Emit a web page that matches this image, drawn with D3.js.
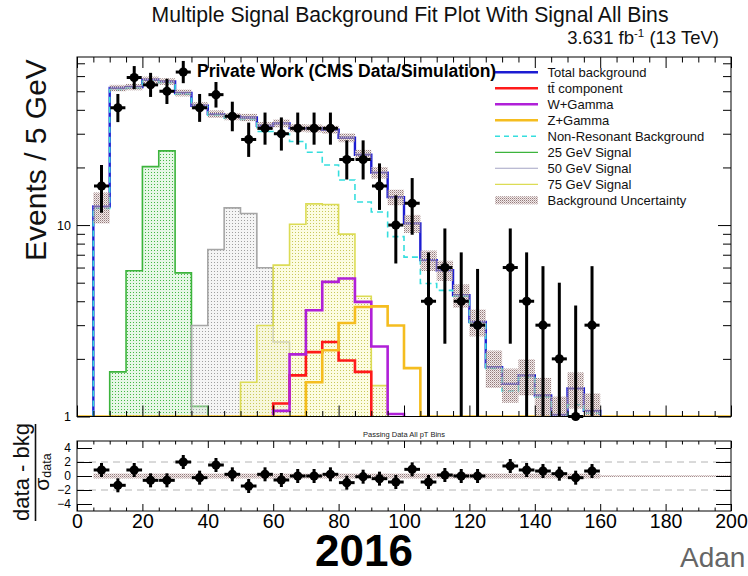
<!DOCTYPE html>
<html>
<head>
<meta charset="utf-8">
<script src="https://cdn.jsdelivr.net/npm/d3@7"></script>
<style>
  body { margin: 0; background: #fff; }
  svg { display: block; }
  text { font-family: "Liberation Sans", Arial, Helvetica, sans-serif; }
</style>
</head>
<body>
<svg id="chart" width="748" height="576"></svg>
<script>
// ---- binning: 5 GeV bins from 0 to 200 GeV (lower edges) ----
const binLow = [0,5,10,15,20,25,30,35,40,45,50,55,60,65,70,75,80,85,90,95,
                100,105,110,115,120,125,130,135,140,145,150,155,160,165,170,175,180,185,190,195];
const binWidth = 5;

// ---- stacked background fit (events per bin) ----
const totalBkg = [0,12.5,52,52.6,57.4,56.2,49,42,38,36.9,36.5,33,34,32.1,32,31.5,28.6,23.3,18.8,14,
                  10.2,6.56,5.81,4.3,3.12,1.81,1.48,1.64,1.29,1.02,1.4,1.07,0,0,0,0,0,0,0,0];
const bkgUnc   = [0,2.3,2.0,2.0,2.2,2.2,2.0,1.8,1.7,1.6,1.6,1.5,1.6,1.5,1.5,1.5,1.5,1.4,1.3,1.3,
                  1.1,0.8,0.7,0.6,0.5,0.4,0.3,0.35,0.3,0.25,0.3,0.25,0,0,0,0,0,0,0,0];
const nonRes   = [0,12.2,51,52,56.5,55.4,48.3,41.4,37.5,36.2,35.6,30.8,29.9,27.3,24.0,20.6,17.2,13.2,11.7,8.7,
                  6.8,4.95,4.56,4.25,3.08,1.78,1.36,1.6,1.26,1.0,1.15,1.04,0,0,0,0,0,0,0,0];
const ttbar    = [0,0,0,0,0,0,0,0,0,0,0,0,1.17,1.64,2.17,2.45,1.96,1.71,0,0,
                  0,0,0,0,0,0,0,0,0,0,0,0,0,0,0,0,0,0,0,0];
const wGamma   = [0,0,0,0,0,0,0,0,0,0,0,0,1.07,2.11,3.59,5.05,5.26,3.97,2.32,1.03,
                  0,0,0,0,0,0,0,0,0,0,0,0,0,0,0,0,0,0,0,0];
const zGamma   = [0,0,0,0,0,0,0,0,0,0,0,0,0,0,1.51,2.22,3.08,3.73,3.76,2.99,
                  1.79,0,0,0,0,0,0,0,0,0,0,0,0,0,0,0,0,0,0,0];

// ---- signal hypotheses ----
const sig25 = [0,0,1.71,5.77,20.2,24.4,5.63,1.13,0,0,0,0,0,0,0,0,0,0,0,0,
               0,0,0,0,0,0,0,0,0,0,0,0,0,0,0,0,0,0,0,0];
const sig50 = [0,0,0,0,0,0,0,2.99,7.46,12.3,11.5,5.98,2.45,0,0,0,0,0,0,0,
               0,0,0,0,0,0,0,0,0,0,0,0,0,0,0,0,0,0,0,0];
const sig75 = [0,0,0,0,0,0,0,0,0,0,1.51,2.99,6.18,10.1,12.9,12.8,8.97,4.25,1.45,0,
               0,0,0,0,0,0,0,0,0,0,0,0,0,0,0,0,0,0,0,0];

// ---- observed data (non-empty bins) ----
const dataCenter = [7.5,12.5,17.5,22.5,27.5,32.5,37.5,42.5,47.5,52.5,57.5,62.5,67.5,72.5,77.5,
                    82.5,87.5,92.5,97.5,102.5,107.5,112.5,117.5,122.5,132.5,137.5,142.5,147.5,152.5,157.5];
const dataCount  = [16,41,59,54,50,63,41,48,37,28,32,30,32,32,32,22,22,16,10,13,4,6,4,3,6,4,3,2,1,3];
const dataErrHi  = [4.6,7.4,8.7,8.4,8.1,9.0,7.4,7.9,7.1,6.3,6.7,6.5,6.7,6.7,6.7,5.7,5.7,5.0,4.3,4.6,
                    3.2,3.6,3.2,2.9,3.6,3.2,3.1,3.0,2.8,3.1];
const dataErrLo  = [4.4,6.5,7.7,7.3,7.1,7.9,6.4,6.9,6.1,5.3,5.7,5.5,5.7,5.7,5.7,4.7,4.7,4.0,3.7,4.1,
                    3.5,3.6,3.5,2.8,3.6,3.5,2.8,2.0,1.0,2.8];
// pull (data - bkg) / sigma_data
const pullVal    = [0.86,-1.33,0.86,-0.62,-0.62,2.0,-0.24,1.57,0.24,-1.43,0.24,-0.57,0,0,0.24,
                    -0.95,-0.1,-0.38,-0.86,0.95,-0.86,0.14,0,0,1.43,0.86,0.71,0.33,-0.24,0.71];
const pullBand   = [0,0.35,0.35,0.35,0.35,0.35,0.35,0.35,0.35,0.35,0.35,0.35,0.35,0.35,0.35,0.35,0.35,0.35,0.35,0.35,
                    0.35,0.35,0.35,0.35,0.35,0.35,0.35,0.35,0.35,0.35,0.35,0.35,0.12,0.12,0.12,0.12,0.12,0.12,0.12,0.12];

// ---- axis ticks ----
const xMajor = [0,20,40,60,80,100,120,140,160,180,200];
const yMajorMain = [1,10];
const yMinorMain = [2,3,4,5,6,7,8,9,20,30,40,50,60,70];
const yTicksPull = [-4,-2,0,2,4];

const legendLabels = ["Total background","tt\u0304 component","W+Gamma","Z+Gamma",
                      "Non-Resonant Background","25 GeV Signal","50 GeV Signal","75 GeV Signal",
                      "Background Uncertainty"];

// ================= drawing =================
const svg = d3.select("#chart");
const defs = svg.append("defs");

const L = 77, R = 731, T = 57, B = 416.5;     // main pad frame
const RT = 441, RB = 511;                    // pull pad frame

const x  = d3.scaleLinear().domain([0, 200]).range([L, R]);
const y  = d3.scaleLog().domain([1, 75.5]).range([B, T]);
const yr = d3.scaleLinear().domain([-5, 5]).range([RB, RT]);
const yc = v => y(Math.max(v, 1));

function dotPattern(id, size, bg, dots) {
  const p = defs.append("pattern").attr("id", id).attr("patternUnits", "userSpaceOnUse")
    .attr("width", size).attr("height", size);
  p.append("rect").attr("width", size).attr("height", size).attr("fill", bg);
  dots.forEach(d => p.append("rect").attr("x", d[0]).attr("y", d[1]).attr("width", 1).attr("height", 1).attr("fill", d[2]));
}
dotPattern("p25", 3, "rgba(200,238,200,0.45)", [[1,1,"#44b844"]]);
dotPattern("p50", 3, "rgba(225,225,225,0.35)", [[1,1,"#a0a0a0"]]);
dotPattern("p75", 3, "rgba(250,250,200,0.55)", [[1,1,"#c8c85a"]]);
dotPattern("pUnc", 2, "rgba(215,200,200,0.35)", [[0,0,"#957a7a"],[1,1,"#c7b2b2"]]);

defs.append("clipPath").attr("id", "mainClip").append("rect")
  .attr("x", L).attr("y", T).attr("width", R - L).attr("height", B - T);
defs.append("clipPath").attr("id", "pullClip").append("rect")
  .attr("x", L).attr("y", RT).attr("width", R - L).attr("height", RB - RT);

// step outline over a bin range, closed to the baseline at both ends
function stepPoints(vals, i0, i1) {
  const pts = [[x(binLow[i0]), y(1)]];
  for (let i = i0; i <= i1; i++) {
    pts.push([x(binLow[i]), yc(vals[i])], [x(binLow[i] + binWidth), yc(vals[i])]);
  }
  pts.push([x(binLow[i1] + binWidth), y(1)]);
  return pts;
}
function range(vals) {
  const i0 = vals.findIndex(v => v > 0);
  const i1 = vals.length - 1 - [...vals].reverse().findIndex(v => v > 0);
  return [i0, i1];
}
const line = d3.line();

const main = svg.append("g").attr("clip-path", "url(#mainClip)");

// signal hypotheses: dotted fill + outline
[[sig25, "p25", "#3cb43c"], [sig50, "p50", "#a6a6a6"], [sig75, "p75", "#dcdc55"]].forEach(([vals, pat, col]) => {
  const [i0, i1] = range(vals);
  const pts = stepPoints(vals, i0, i1);
  main.append("path").attr("d", line(pts) + "Z").attr("fill", `url(#${pat})`).attr("stroke", "none");
  main.append("path").attr("d", line(pts)).attr("fill", "none").attr("stroke", col).attr("stroke-width", 1.6);
});

// background components
[[ttbar, "#ff1a1a"], [wGamma, "#b020d8"]].forEach(([vals, col]) => {
  const [i0, i1] = range(vals);
  main.append("path").attr("d", line(stepPoints(vals, i0, i1)))
    .attr("fill", "none").attr("stroke", col).attr("stroke-width", 2.6);
});
main.append("path").attr("d", line(stepPoints(zGamma, 0, zGamma.length - 1)))
  .attr("fill", "none").attr("stroke", "#f5bd1f").attr("stroke-width", 2.6);

// total background
{
  const [i0, i1] = range(totalBkg);
  main.append("path").attr("d", line(stepPoints(totalBkg, i0, i1)))
    .attr("fill", "none").attr("stroke", "#1c1cd2").attr("stroke-width", 2.4);
}
// non-resonant background (dashed)
{
  const [i0, i1] = range(nonRes);
  main.append("path").attr("d", line(stepPoints(nonRes, i0, i1)))
    .attr("fill", "none").attr("stroke", "#35dede").attr("stroke-width", 1.6).attr("stroke-dasharray", "6,4");
}
// background uncertainty band
main.append("g").selectAll("rect").data(binLow.map((lo, i) => ({ lo, v: totalBkg[i], e: bkgUnc[i] })).filter(d => d.v > 0))
  .join("rect")
  .attr("x", d => x(d.lo)).attr("width", x(binWidth) - x(0))
  .attr("y", d => yc(d.v + d.e)).attr("height", d => yc(d.v - d.e) - yc(d.v + d.e))
  .attr("fill", "url(#pUnc)");

// frame and ticks of main pad
svg.append("rect").attr("x", L).attr("y", T).attr("width", R - L).attr("height", B - T)
  .attr("fill", "none").attr("stroke", "#000").attr("stroke-width", 1);

function tickGroup(axis, tx, ty) {
  const g = svg.append("g").attr("transform", `translate(${tx},${ty})`).call(axis);
  g.select(".domain").remove();
  return g;
}
const xMinor = binLow.concat([200]).filter(v => v % 20 !== 0);
tickGroup(d3.axisBottom(x).tickValues(xMajor).tickSize(-11).tickFormat(""), 0, B);
tickGroup(d3.axisBottom(x).tickValues(xMinor).tickSize(-5.5).tickFormat(""), 0, B);
tickGroup(d3.axisTop(x).tickValues(xMajor).tickSize(-11).tickFormat(""), 0, T);
tickGroup(d3.axisTop(x).tickValues(xMinor).tickSize(-5.5).tickFormat(""), 0, T);
const yLab = tickGroup(d3.axisLeft(y).tickValues(yMajorMain).tickSize(-13).tickPadding(6).tickFormat(d3.format("d")), L, 0);
yLab.attr("font-size", 12.5).attr("font-family", "Liberation Sans, Arial, sans-serif");
tickGroup(d3.axisLeft(y).tickValues(yMinorMain).tickSize(-8).tickFormat(""), L, 0);
tickGroup(d3.axisRight(y).tickValues(yMajorMain).tickSize(-13).tickFormat(""), R, 0);
tickGroup(d3.axisRight(y).tickValues(yMinorMain).tickSize(-8).tickFormat(""), R, 0);

// data points with error bars
const pts = svg.append("g");
dataCenter.forEach((c, i) => {
  const n = dataCount[i];
  const cx = x(c), cy = yc(n);
  pts.append("line").attr("x1", cx).attr("x2", cx)
    .attr("y1", yc(n + dataErrHi[i])).attr("y2", yc(n - dataErrLo[i]))
    .attr("stroke", "#000").attr("stroke-width", 3);
  pts.append("line").attr("x1", x(c - 2.3)).attr("x2", x(c + 2.3)).attr("y1", cy).attr("y2", cy)
    .attr("stroke", "#000").attr("stroke-width", 3);
  pts.append("circle").attr("cx", cx).attr("cy", cy).attr("r", 4.6).attr("fill", "#000");
});

// ---- legend ----
const legY0 = 72.3, legDY = 16, legX0 = 495, legX1 = 538, legTX = 547.5;
const legStyle = [
  { c: "#1c1cd2", w: 2.5 }, { c: "#ff1a1a", w: 2.5 }, { c: "#b020d8", w: 2.5 }, { c: "#f5bd1f", w: 2.5 },
  { c: "#35dede", w: 1.6, dash: "5,4" }, { c: "#3cb43c", w: 1.3 }, { c: "#a4a4c4", w: 1.1 }, { c: "#dcdc55", w: 1.3 },
  { band: true }
];
const leg = svg.append("g");
legendLabels.forEach((lab, i) => {
  const cy = legY0 + i * legDY, s = legStyle[i];
  if (s.band) {
    leg.append("rect").attr("x", legX0).attr("y", cy - 4).attr("width", legX1 - legX0).attr("height", 8)
      .attr("fill", "url(#pUnc)");
  } else {
    leg.append("line").attr("x1", legX0).attr("x2", legX1).attr("y1", cy).attr("y2", cy)
      .attr("stroke", s.c).attr("stroke-width", s.w).attr("stroke-dasharray", s.dash || null);
  }
  leg.append("text").attr("x", legTX).attr("y", cy + 4.6).attr("font-size", 13).attr("fill", "#111").text(lab);
});

// ---- texts of main pad ----
svg.append("text").attr("x", 197).attr("y", 77).attr("font-size", 17.5).attr("font-weight", "bold")
  .text("Private Work (CMS Data/Simulation)");
svg.append("text").attr("x", 410).attr("y", 21.5).attr("text-anchor", "middle").attr("font-size", 21.2).attr("fill", "#111")
  .text("Multiple Signal Background Fit Plot With Signal All Bins");
{
  const t = svg.append("text").attr("x", 719).attr("y", 43.5).attr("text-anchor", "end").attr("font-size", 18.5).attr("fill", "#111");
  t.append("tspan").text("3.631 fb");
  t.append("tspan").attr("dy", -7).attr("font-size", 11.5).text("-1");
  t.append("tspan").attr("dy", 7).text(" (13 TeV)");
}
svg.append("text").attr("transform", "translate(46,160) rotate(-90)").attr("text-anchor", "middle")
  .attr("font-size", 30).attr("fill", "#111").text("Events / 5 GeV");

// ================= pull pad =================
svg.append("text").attr("x", 404).attr("y", 437).attr("text-anchor", "middle").attr("font-size", 7.5).attr("fill", "#222")
  .text("Passing Data All pT Bins");

const pull = svg.append("g").attr("clip-path", "url(#pullClip)");
pull.append("g").selectAll("rect").data(binLow.map((lo, i) => ({ lo, h: pullBand[i] })).filter(d => d.h > 0))
  .join("rect")
  .attr("x", d => x(d.lo)).attr("width", x(binWidth) - x(0))
  .attr("y", d => yr(d.h)).attr("height", d => yr(-d.h) - yr(d.h))
  .attr("fill", "url(#pUnc)");
[2, -2].forEach(v => pull.append("line").attr("x1", L).attr("x2", R).attr("y1", yr(v)).attr("y2", yr(v))
  .attr("stroke", "#b4b4b4").attr("stroke-width", 1).attr("stroke-dasharray", "7,5"));

svg.append("rect").attr("x", L).attr("y", RT).attr("width", R - L).attr("height", RB - RT)
  .attr("fill", "none").attr("stroke", "#000").attr("stroke-width", 1);

const xLab = tickGroup(d3.axisBottom(x).tickValues(xMajor).tickSize(-7).tickPadding(3), 0, RB);
xLab.attr("font-size", 19.5).attr("font-family", "Liberation Sans, Arial, sans-serif");
tickGroup(d3.axisBottom(x).tickValues(xMinor).tickSize(-3.5).tickFormat(""), 0, RB);
tickGroup(d3.axisTop(x).tickValues(xMajor).tickSize(-7).tickFormat(""), 0, RT);
tickGroup(d3.axisTop(x).tickValues(xMinor).tickSize(-3.5).tickFormat(""), 0, RT);
const yrLab = tickGroup(d3.axisLeft(yr).tickValues(yTicksPull).tickSize(-15).tickPadding(6), L, 0);
yrLab.attr("font-size", 12).attr("font-family", "Liberation Sans, Arial, sans-serif");
tickGroup(d3.axisRight(yr).tickValues(yTicksPull).tickSize(-15).tickFormat(""), R, 0);

const pp = svg.append("g");
dataCenter.forEach((c, i) => {
  const cx = x(c), cy = yr(pullVal[i]);
  pp.append("line").attr("x1", cx).attr("x2", cx).attr("y1", yr(pullVal[i] + 1)).attr("y2", yr(pullVal[i] - 1))
    .attr("stroke", "#000").attr("stroke-width", 3);
  pp.append("line").attr("x1", x(c - 2.4)).attr("x2", x(c + 2.4)).attr("y1", cy).attr("y2", cy)
    .attr("stroke", "#000").attr("stroke-width", 3);
  pp.append("circle").attr("cx", cx).attr("cy", cy).attr("r", 4.6).attr("fill", "#000");
});

// pull axis title: (data - bkg) / sigma_data
svg.append("text").attr("transform", "translate(29,472) rotate(-90)").attr("text-anchor", "middle")
  .attr("font-size", 22).attr("fill", "#111").text("data - bkg");
svg.append("line").attr("x1", 35.5).attr("x2", 35.5).attr("y1", 424).attr("y2", 521).attr("stroke", "#111").attr("stroke-width", 1.6);
{
  const t = svg.append("text").attr("transform", "translate(49,472) rotate(-90)").attr("text-anchor", "middle")
    .attr("font-size", 21).attr("fill", "#111");
  t.append("tspan").text("\u03c3");
  t.append("tspan").attr("dy", 1.5).attr("font-size", 12.5).text("data");
}

// ---- footer ----
svg.append("text").attr("x", 364).attr("y", 566).attr("text-anchor", "middle").attr("font-size", 44)
  .attr("font-weight", "bold").attr("fill", "#000").text("2016");
svg.append("text").attr("x", 680).attr("y", 567).attr("font-size", 28).attr("fill", "#666").text("Adan");
</script>
</body>
</html>
